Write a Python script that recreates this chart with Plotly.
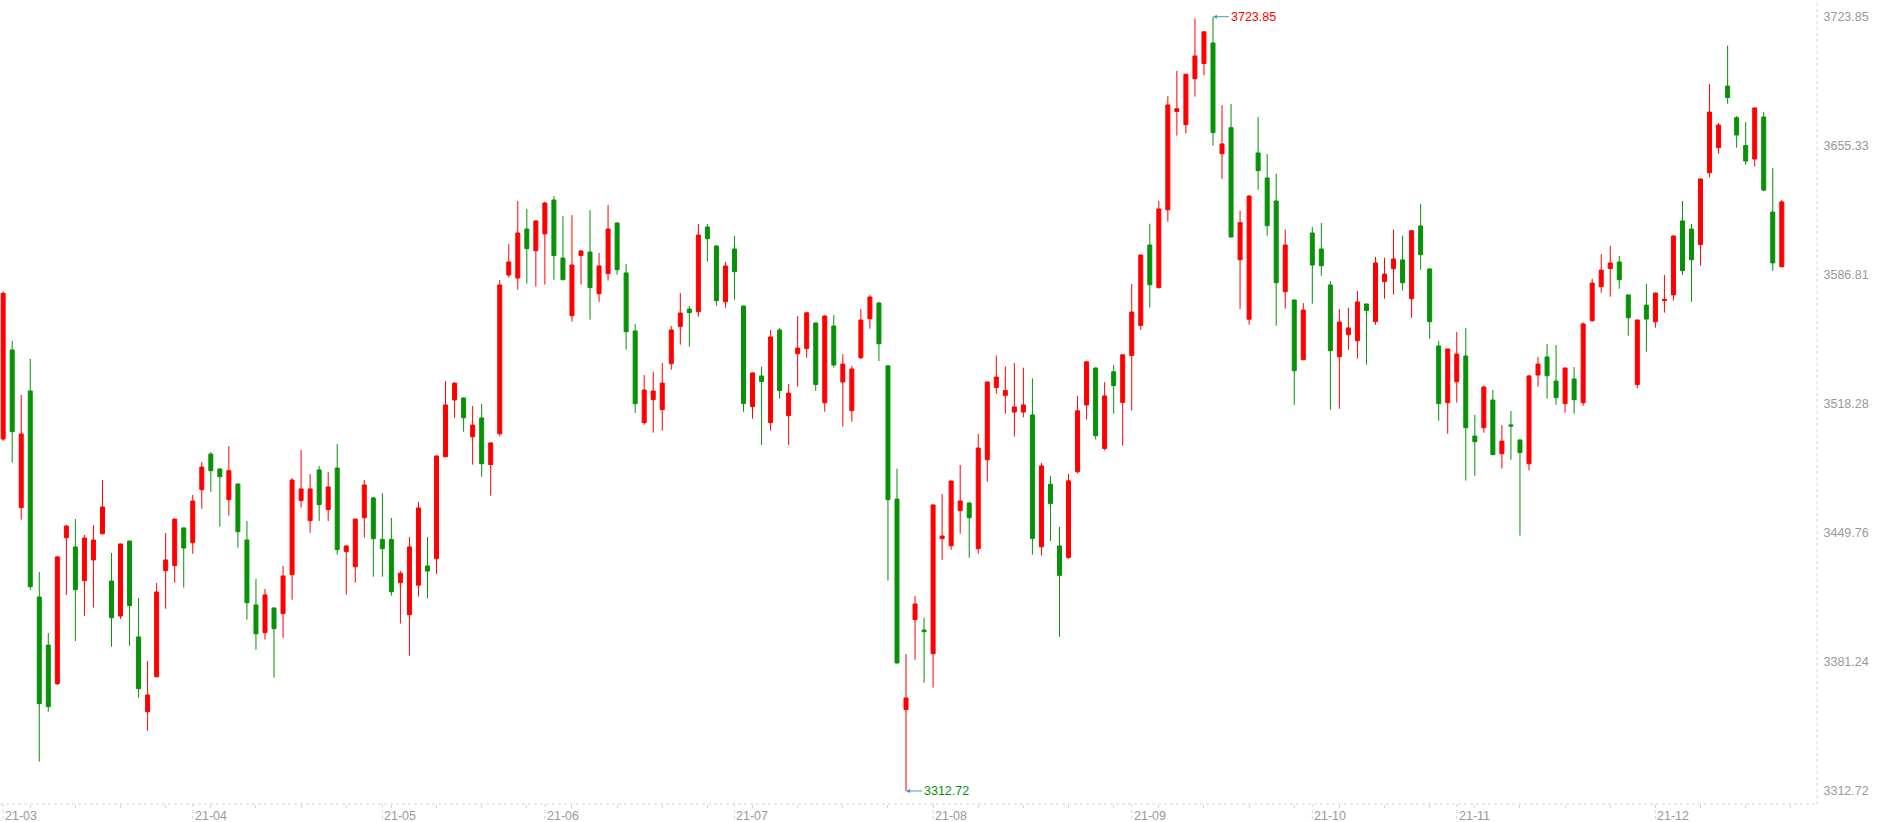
import plotly.graph_objects as go

# daily K line, 2021-03-03 .. 2021-12-21 (one entry per trading day)
opens = [
    3499.6, 3546.9, 3463.2, 3525.1, 3415.7, 3390.2, 3369.7, 3447.2, 3442.3, 3424.4,
    3435.4, 3449.3, 3424.2, 3405.6, 3445.4, 3394.5, 3354.8, 3373.4, 3429.7, 3432.4,
    3452.4, 3444.6, 3472.7, 3491.6, 3483.7, 3467.4, 3475.7, 3446.0, 3411.5, 3396.8,
    3409.9, 3406.9, 3427.6, 3466.9, 3456.2, 3483.2, 3462.1, 3484.2, 3439.8, 3431.8,
    3457.8, 3468.3, 3446.3, 3446.3, 3423.3, 3406.3, 3422.0, 3432.2, 3436.1, 3490.2,
    3520.3, 3521.4, 3500.8, 3510.8, 3486.0, 3502.4, 3586.7, 3585.1, 3611.1, 3599.6,
    3608.5, 3626.5, 3595.7, 3565.1, 3597.0, 3598.9, 3576.8, 3587.4, 3614.3, 3587.8,
    3557.0, 3508.3, 3520.5, 3515.2, 3539.6, 3559.3, 3568.6, 3567.2, 3612.2, 3602.1,
    3572.5, 3600.5, 3570.2, 3516.8, 3533.1, 3508.3, 3557.5, 3512.0, 3544.9, 3547.6,
    3561.2, 3518.9, 3559.6, 3529.9, 3514.7, 3542.8, 3563.5, 3571.8, 3538.4, 3467.7,
    3355.9, 3403.7, 3398.2, 3385.6, 3446.7, 3442.9, 3461.6, 3465.6, 3441.4, 3488.6,
    3526.9, 3522.8, 3513.9, 3513.9, 3512.4, 3442.4, 3475.6, 3442.8, 3436.7, 3482.2,
    3517.7, 3537.3, 3494.6, 3535.3, 3519.0, 3543.9, 3559.9, 3602.6, 3580.0, 3621.3,
    3673.5, 3666.5, 3690.9, 3699.0, 3709.9, 3651.1, 3664.9, 3594.8, 3563.2, 3651.5,
    3638.2, 3626.0, 3577.8, 3573.4, 3541.7, 3609.0, 3600.5, 3581.4, 3543.3, 3555.0,
    3551.8, 3571.3, 3561.9, 3583.2, 3590.0, 3594.7, 3574.1, 3612.7, 3589.9, 3549.0,
    3518.9, 3530.0, 3543.7, 3501.2, 3505.6, 3520.3, 3491.8, 3507.1, 3499.1, 3486.5,
    3533.6, 3543.2, 3530.4, 3518.4, 3531.5, 3518.9, 3562.4, 3580.5, 3590.1, 3593.6,
    3576.1, 3528.5, 3570.7, 3561.9, 3573.1, 3576.1, 3615.4, 3611.1, 3602.8, 3641.0,
    3654.3, 3687.0, 3670.2, 3655.4, 3648.3, 3670.6, 3620.1, 3591.1,
]
highs = [
    3578.0, 3551.6, 3523.0, 3542.1, 3429.0, 3396.6, 3437.5, 3453.9, 3457.1, 3448.6,
    3453.9, 3477.8, 3439.1, 3444.0, 3445.6, 3415.2, 3381.7, 3423.1, 3449.7, 3457.3,
    3452.6, 3469.9, 3487.4, 3492.7, 3483.9, 3495.9, 3475.9, 3456.1, 3425.3, 3420.0,
    3410.1, 3432.2, 3478.9, 3493.8, 3481.0, 3485.3, 3482.1, 3496.9, 3443.2, 3457.2,
    3477.8, 3468.8, 3470.9, 3457.7, 3429.5, 3447.6, 3466.2, 3447.6, 3490.9, 3530.4,
    3529.6, 3521.6, 3517.1, 3518.2, 3498.0, 3584.0, 3603.2, 3626.0, 3621.7, 3615.6,
    3625.6, 3628.6, 3618.0, 3618.5, 3600.0, 3621.2, 3598.4, 3623.9, 3614.6, 3592.5,
    3560.7, 3533.6, 3535.2, 3539.9, 3559.6, 3577.1, 3570.2, 3613.8, 3613.8, 3602.5,
    3593.6, 3607.4, 3570.4, 3534.9, 3538.0, 3557.5, 3558.6, 3528.8, 3564.9, 3567.2,
    3561.5, 3565.4, 3565.4, 3544.7, 3538.4, 3568.6, 3576.1, 3572.5, 3539.0, 3483.9,
    3385.4, 3416.2, 3404.7, 3464.8, 3470.4, 3477.5, 3485.8, 3466.2, 3502.3, 3530.1,
    3543.9, 3538.1, 3539.9, 3537.5, 3531.8, 3486.9, 3480.0, 3452.9, 3481.1, 3522.5,
    3541.0, 3537.6, 3529.8, 3539.0, 3544.5, 3581.9, 3597.5, 3613.9, 3626.0, 3681.6,
    3695.1, 3693.5, 3722.8, 3716.2, 3723.85, 3676.9, 3677.5, 3620.9, 3629.2, 3670.6,
    3650.9, 3640.5, 3610.8, 3573.6, 3571.8, 3612.2, 3614.3, 3583.5, 3568.6, 3569.3,
    3578.2, 3571.5, 3596.3, 3595.9, 3610.8, 3607.6, 3610.6, 3624.4, 3590.1, 3551.7,
    3547.5, 3556.4, 3558.6, 3512.4, 3527.8, 3525.6, 3507.0, 3514.5, 3499.3, 3533.6,
    3543.2, 3550.1, 3549.5, 3537.5, 3537.8, 3561.6, 3584.7, 3597.8, 3602.1, 3596.8,
    3576.3, 3563.0, 3581.9, 3577.3, 3586.7, 3607.8, 3626.0, 3613.8, 3637.9, 3688.1,
    3667.4, 3708.5, 3671.1, 3667.9, 3675.6, 3673.2, 3643.5, 3626.5,
]
lows = [
    3498.7, 3487.1, 3456.8, 3419.5, 3328.3, 3354.8, 3369.0, 3416.8, 3392.4, 3405.6,
    3410.1, 3449.0, 3389.3, 3404.2, 3389.9, 3362.3, 3344.7, 3373.0, 3409.5, 3423.3,
    3420.7, 3438.7, 3462.6, 3471.6, 3453.1, 3458.9, 3441.9, 3403.7, 3387.7, 3393.1,
    3372.9, 3394.1, 3414.3, 3463.2, 3449.9, 3456.1, 3456.1, 3438.2, 3417.0, 3423.3,
    3447.2, 3426.5, 3426.5, 3416.4, 3401.6, 3384.6, 3416.0, 3415.0, 3428.0, 3489.8,
    3510.9, 3503.5, 3486.0, 3479.6, 3469.5, 3501.0, 3585.3, 3578.9, 3582.1, 3580.5,
    3581.6, 3584.2, 3583.9, 3561.9, 3581.6, 3563.0, 3572.5, 3583.7, 3586.9, 3547.1,
    3513.4, 3507.2, 3503.0, 3504.1, 3536.4, 3549.7, 3548.6, 3564.6, 3593.8, 3570.4,
    3569.3, 3573.6, 3514.1, 3510.4, 3496.4, 3504.0, 3521.0, 3496.4, 3527.4, 3542.8,
    3525.1, 3514.1, 3537.5, 3506.2, 3508.8, 3542.0, 3558.2, 3541.0, 3424.4, 3380.3,
    3312.72, 3382.4, 3370.2, 3367.6, 3435.5, 3440.8, 3449.3, 3436.6, 3438.7, 3477.0,
    3523.7, 3513.1, 3500.9, 3511.1, 3438.2, 3437.8, 3445.5, 3394.6, 3436.0, 3481.4,
    3510.0, 3499.4, 3493.5, 3513.1, 3496.1, 3514.8, 3557.5, 3569.4, 3579.5, 3615.0,
    3660.7, 3661.8, 3681.4, 3692.7, 3655.4, 3637.7, 3606.5, 3568.6, 3560.3, 3632.0,
    3607.6, 3559.8, 3568.8, 3517.8, 3541.5, 3571.5, 3586.3, 3515.2, 3515.7, 3547.0,
    3542.3, 3539.1, 3560.3, 3574.1, 3576.3, 3578.4, 3564.0, 3589.5, 3552.9, 3509.3,
    3502.4, 3518.9, 3477.5, 3480.1, 3503.0, 3491.0, 3483.9, 3488.6, 3448.3, 3483.0,
    3527.4, 3521.0, 3517.8, 3513.6, 3513.1, 3517.3, 3562.0, 3577.3, 3575.2, 3579.4,
    3554.5, 3526.5, 3546.0, 3558.7, 3566.7, 3573.1, 3586.7, 3572.5, 3591.6, 3638.6,
    3651.1, 3677.7, 3654.3, 3645.3, 3644.2, 3631.3, 3588.8, 3590.8,
]
closes = [
    3576.95, 3503.5, 3502.3, 3421.2, 3359.1, 3357.5, 3437.0, 3453.4, 3419.6, 3447.0,
    3446.0, 3463.5, 3404.7, 3443.9, 3411.1, 3367.0, 3363.7, 3418.4, 3435.4, 3457.1,
    3441.7, 3466.7, 3484.7, 3482.8, 3479.6, 3482.8, 3450.4, 3412.7, 3396.2, 3416.8,
    3398.9, 3426.9, 3477.8, 3473.1, 3473.1, 3464.8, 3474.1, 3440.9, 3442.8, 3457.1,
    3475.2, 3446.7, 3441.4, 3418.5, 3428.3, 3442.3, 3463.0, 3429.5, 3490.6, 3517.7,
    3529.3, 3510.9, 3507.0, 3486.5, 3497.5, 3581.4, 3593.6, 3609.0, 3600.7, 3615.4,
    3624.9, 3597.0, 3584.2, 3592.0, 3599.4, 3580.0, 3591.5, 3611.1, 3589.5, 3556.6,
    3518.4, 3525.6, 3525.1, 3529.3, 3557.5, 3566.5, 3566.7, 3607.9, 3606.0, 3573.1,
    3591.5, 3588.5, 3518.4, 3534.7, 3530.1, 3553.8, 3525.3, 3524.0, 3547.9, 3566.6,
    3528.5, 3564.9, 3538.9, 3539.4, 3536.8, 3562.8, 3575.0, 3550.2, 3467.4, 3380.7,
    3362.1, 3412.0, 3397.3, 3464.6, 3448.1, 3477.3, 3466.7, 3457.8, 3494.8, 3529.9,
    3532.5, 3525.3, 3516.6, 3517.7, 3446.8, 3485.3, 3465.3, 3427.2, 3477.4, 3514.6,
    3540.6, 3501.4, 3522.5, 3528.0, 3544.3, 3567.0, 3597.3, 3581.5, 3621.8, 3677.0,
    3675.0, 3693.3, 3703.0, 3715.8, 3662.3, 3656.3, 3606.9, 3614.5, 3628.6, 3642.1,
    3612.9, 3582.6, 3602.6, 3535.9, 3568.1, 3592.0, 3591.6, 3546.5, 3561.7, 3558.6,
    3572.4, 3567.8, 3593.1, 3587.2, 3595.2, 3582.6, 3610.2, 3597.5, 3561.9, 3518.4,
    3547.4, 3544.7, 3505.6, 3498.2, 3527.2, 3491.3, 3498.5, 3506.5, 3492.4, 3533.1,
    3539.4, 3533.2, 3521.6, 3537.3, 3520.5, 3560.7, 3582.4, 3589.3, 3593.1, 3584.2,
    3564.0, 3562.8, 3563.3, 3577.1, 3573.8, 3607.4, 3589.0, 3594.8, 3637.7, 3673.2,
    3666.3, 3680.9, 3661.0, 3647.2, 3675.4, 3631.8, 3593.1, 3625.5,
]

# month labels sit at the first trading day of each month (category index)
month_labels = ["21-03", "21-04", "21-05", "21-06", "21-07", "21-08", "21-09", "21-10", "21-11", "21-12"]
month_pos = [0, 21, 42, 60, 81, 103, 125, 145, 161, 183]

# y axis: min / max of the data split in 6
y_ticks = [3312.72, 3381.24, 3449.76, 3518.28, 3586.81, 3655.33, 3723.85]

UP = "#ff0000"
DOWN = "#079207"
AXIS = "#d4d4d4"
LABEL = "#999999"
FONT = "Liberation Sans, Arial, sans-serif"

x = list(range(len(closes)))

fig = go.Figure()
fig.add_trace(go.Candlestick(
    x=x, open=opens, high=highs, low=lows, close=closes,
    increasing=dict(line=dict(color=UP, width=1), fillcolor=UP),
    decreasing=dict(line=dict(color=DOWN, width=1), fillcolor=DOWN),
    whiskerwidth=0,
    showlegend=False,
))

# max / min markers
i_max = highs.index(max(highs))
i_min = lows.index(min(lows))
for i, val, col in [(i_max, highs[i_max], UP), (i_min, lows[i_min], DOWN)]:
    fig.add_annotation(
        x=i, y=val, text=f"{val:.2f}", showarrow=True,
        ax=16, ay=0, xanchor="left", arrowhead=2, arrowsize=0.8,
        arrowwidth=1, arrowcolor="#3b9ac4",
        font=dict(family=FONT, size=12.5, color=col),
    )

# month labels, left aligned on their tick, plus dotted tick lines
for pos, lab in zip(month_pos, month_labels):
    fig.add_annotation(
        x=pos, y=0, yref="paper", text=lab, showarrow=False,
        xanchor="left", yanchor="top", xshift=0, yshift=-3,
        font=dict(family=FONT, size=12.5, color=LABEL),
    )
    fig.add_shape(type="line", x0=pos, x1=pos, y0=0, y1=-0.03, yref="paper",
                  line=dict(color=AXIS, width=1, dash="dot"))

# dotted axis lines (bottom + right)
fig.add_shape(type="line", xref="paper", yref="paper", x0=0, x1=1, y0=0, y1=0,
              line=dict(color=AXIS, width=1, dash="dot"))
fig.add_shape(type="line", xref="paper", yref="paper", x0=1, x1=1, y0=0, y1=1.01,
              line=dict(color=AXIS, width=1, dash="dot"))

fig.update_layout(
    width=1881, height=822,
    margin=dict(l=0, r=64, t=5, b=18),
    paper_bgcolor="white", plot_bgcolor="white",
    boxgap=0.37, boxgroupgap=0.3,
    font=dict(family=FONT, size=12.5, color=LABEL),
    xaxis=dict(
        range=[-0.35, 200.9], rangeslider=dict(visible=False),
        showgrid=False, zeroline=False, showline=False,
        tick0=3, dtick=5, ticks="outside", ticklen=3, tickcolor=AXIS,
        showticklabels=False,
    ),
    yaxis=dict(
        side="right", range=[3305.8, 3730.06],
        tickvals=y_ticks, ticktext=[f"{v:.2f}" for v in y_ticks],
        ticks="outside", ticklen=3, tickcolor="rgba(0,0,0,0)",
        showgrid=False, zeroline=False, showline=False,
        tickfont=dict(family=FONT, size=12.5, color=LABEL),
    ),
    hovermode="x",
)

# page margin off so the figure fills the window exactly; no modebar
fig.write_html("out.html", config={"displayModeBar": False},
               post_script="document.body.style.margin='0px';")
